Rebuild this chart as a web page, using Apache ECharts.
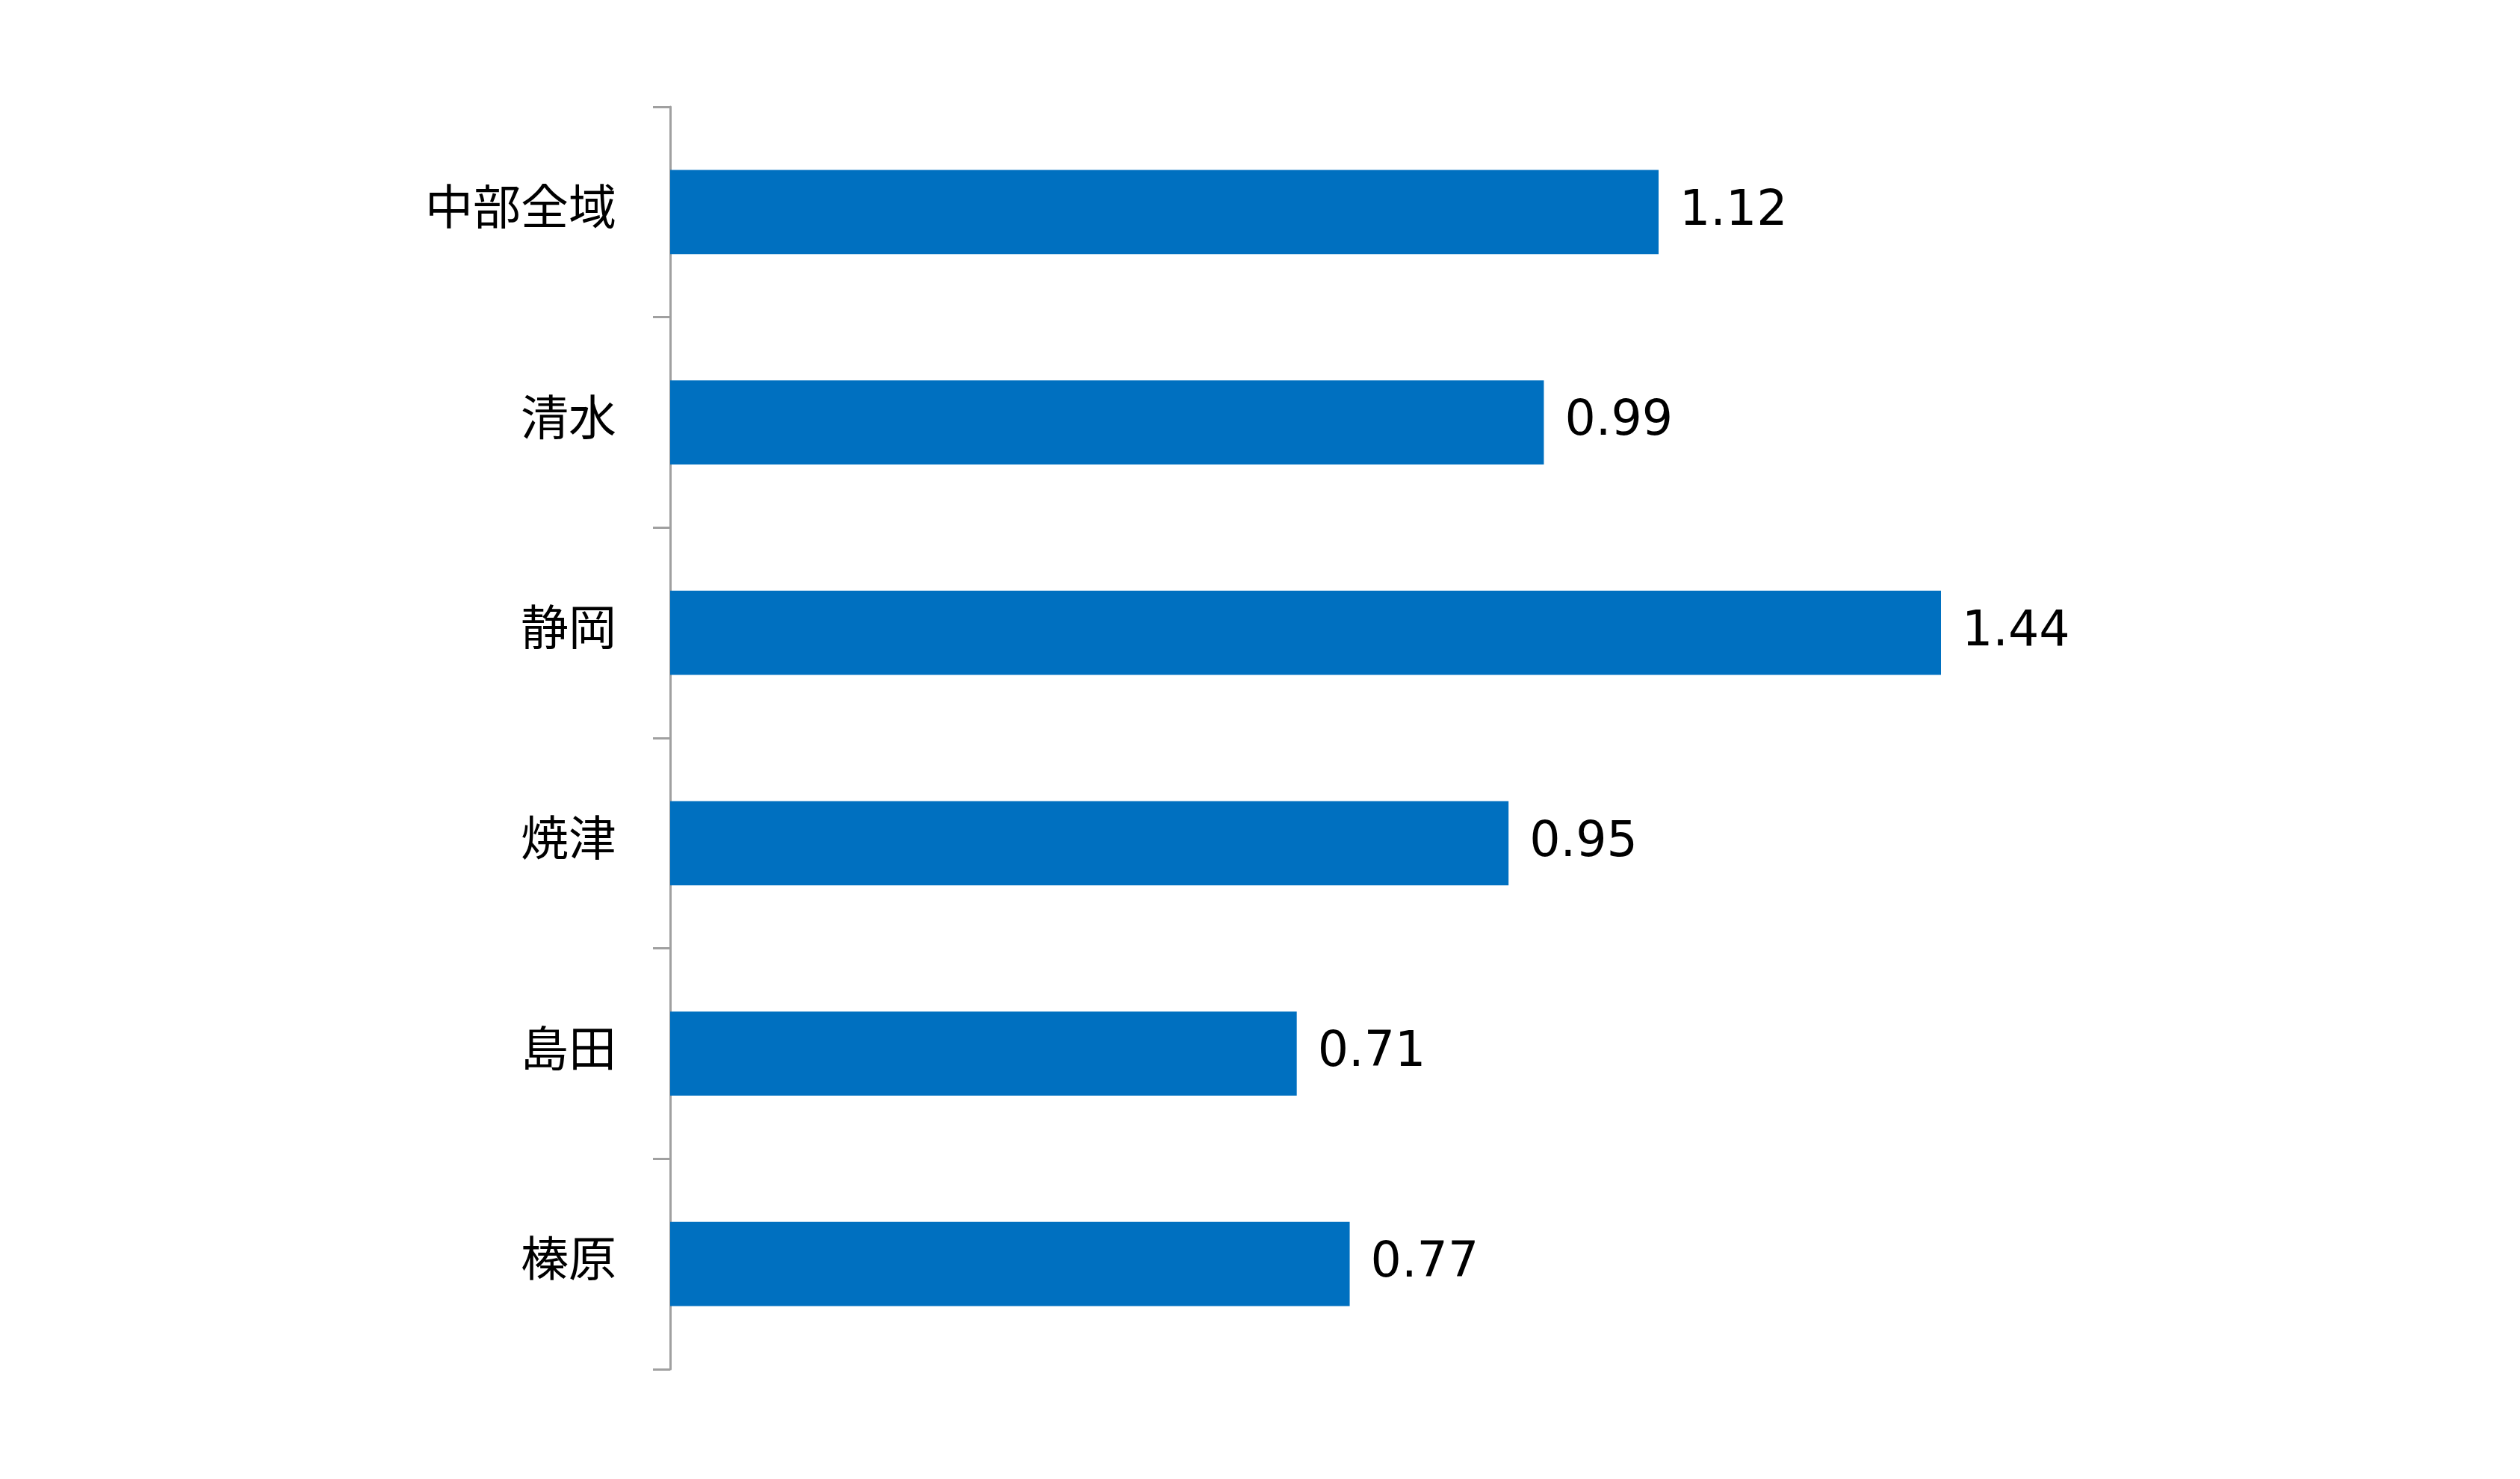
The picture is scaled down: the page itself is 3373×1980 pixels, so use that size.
<!DOCTYPE html>
<html>
<head>
<meta charset="utf-8">
<script src="https://cdn.jsdelivr.net/npm/echarts@6/dist/echarts.min.js"></script>
<style>html,body{margin:0;padding:0;background:#fff;}#c{width:3373px;height:1980px;}</style>
</head>
<body>
<div id="c"></div>
<script>
const categories = ['中部全域', '清水', '静岡', '焼津', '島田', '榛原'];
const values = [1.12, 0.99, 1.44, 0.95, 0.71, 0.77];

const chart = echarts.init(document.getElementById('c'));
chart.setOption({
  backgroundColor: '#ffffff',
  animation: false,
  grid: { left: 897, right: 113.5, top: 143, bottom: 147, containLabel: false },
  xAxis: {
    type: 'value', min: 0, max: 2,
    show: false
  },
  yAxis: {
    type: 'category',
    data: categories,
    inverse: true,
    axisLine: { show: true, lineStyle: { color: '#a0a0a0', width: 3 } },
    axisTick: { show: true, length: 23, lineStyle: { color: '#a0a0a0', width: 3 } },
    axisLabel: {
      margin: 72,
      color: '#000000',
      fontSize: 64,
      fontFamily: '"Noto Sans CJK JP", sans-serif',
      formatter: v => '{a|' + v + '}',
      rich: {
        a: {
          color: '#000000',
          fontSize: 64,
          fontFamily: '"Noto Sans CJK JP", sans-serif',
          padding: [0, 0, 16, 0]
        }
      }
    }
  },
  series: [{
    type: 'bar',
    data: values,
    barWidth: '40%',
    itemStyle: { color: '#0070C0' },
    label: {
      show: true,
      position: 'right',
      distance: 28,
      color: '#000000',
      fontSize: 65,
      fontFamily: '"DejaVu Sans", sans-serif',
      formatter: p => p.value.toFixed(2)
    }
  }]
});
</script>
</body>
</html>
